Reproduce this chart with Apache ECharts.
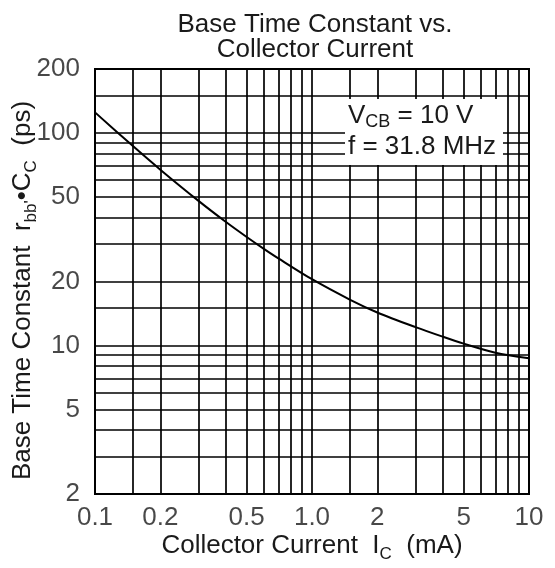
<!DOCTYPE html>
<html>
<head>
<meta charset="utf-8">
<script src="https://cdn.jsdelivr.net/npm/echarts@6/dist/echarts.min.js"></script>
<style>
  html, body { margin: 0; padding: 0; background: #fff; }
  #chart { width: 555px; height: 568px; }
</style>
</head>
<body>
<div id="chart"></div>
<script>
// data
var currentMA = [0.1, 0.15, 0.2, 0.3, 0.4, 0.5, 0.6, 0.7, 1.0, 1.5, 2, 3, 4, 5, 7, 10];
var timeConstPs = [125, 86.5, 67.2, 47.9, 38.2, 32.4, 28.5, 25.7, 20.5, 16.4, 14.3, 12.2, 11.0, 10.2, 9.25, 8.7];

// grid lines (log paper)
var xGridVals = [0.15, 0.2, 0.3, 0.4, 0.5, 0.6, 0.7, 0.8, 0.9, 1, 1.5, 2, 3, 4, 5, 6, 7, 8, 9];
var yGridVals = [3, 4, 5, 6, 7, 8, 9, 10, 15, 20, 30, 40, 50, 60, 70, 80, 90, 100, 150];

// tick labels
var xTicks = [0.1, 0.2, 0.5, 1, 2, 5, 10];
var xTickLabels = ['0.1', '0.2', '0.5', '1.0', '2', '5', '10'];
var yTicks = [2, 5, 10, 20, 50, 100, 200];
var yTickLabels = ['2', '5', '10', '20', '50', '100', '200'];

var FONT = 'Liberation Sans';
var INK = '#1a1a1a';

var chartDom = document.getElementById('chart');
var myChart = echarts.init(chartDom);

var gridLines = xGridVals.map(function (v) { return { xAxis: v }; })
  .concat(yGridVals.map(function (v) { return { yAxis: v }; }));

var option = {
  animation: false,
  backgroundColor: '#fff',
  title: {
    text: 'Base Time Constant vs.\nCollector Current',
    left: 310,
    top: 7,
    textAlign: 'center',
    textStyle: {
      fontFamily: FONT,
      fontWeight: 'normal',
      fontSize: 26,
      lineHeight: 25,
      color: INK
    }
  },
  grid: {
    left: 95,
    right: 26,
    top: 69,
    bottom: 67,
    show: true,
    borderColor: '#000',
    borderWidth: 2,
    backgroundColor: '#fff'
  },
  xAxis: {
    type: 'log',
    logBase: 10,
    min: 0.1,
    max: 10,
    axisLine: { show: false },
    axisTick: { show: false },
    axisLabel: { show: false },
    splitLine: { show: false },
    name: '{a|Collector Current  I}{s|C}{a|  (mA)}',
    nameLocation: 'middle',
    nameGap: 35,
    nameTextStyle: {
      rich: {
        a: { fontFamily: FONT, fontSize: 26, lineHeight: 34, color: INK },
        s: { fontFamily: FONT, fontSize: 17, lineHeight: 20, color: INK, verticalAlign: 'bottom' }
      }
    }
  },
  yAxis: {
    type: 'log',
    logBase: 10,
    min: 2,
    max: 200,
    axisLine: { show: false },
    axisTick: { show: false },
    axisLabel: { show: false },
    splitLine: { show: false },
    name: "{a|Base Time Constant  r}{s|bb'}{a|\u2022C}{s|C}{a|  (ps)}",
    nameLocation: 'middle',
    nameRotate: 90,
    nameGap: 55,
    nameTextStyle: {
      padding: [0, 18, 0, 0],
      rich: {
        a: { fontFamily: FONT, fontSize: 26, lineHeight: 34, color: INK },
        s: { fontFamily: FONT, fontSize: 17, lineHeight: 20, color: INK, verticalAlign: 'bottom' }
      }
    }
  },
  graphic: [
    {
      type: 'rect',
      z: 100,
      shape: { x: 345, y: 99, width: 158, height: 66 },
      style: { fill: '#fff' }
    },
    {
      type: 'text',
      z: 101,
      x: 348,
      y: 100,
      style: {
        text: '{a|V}{s|CB}{a| = 10 V}\n{a|f = 31.8 MHz}',
        rich: {
          a: { fontFamily: FONT, fontSize: 26, lineHeight: 31, fill: INK },
          s: { fontFamily: FONT, fontSize: 18, lineHeight: 20, fill: INK, verticalAlign: 'bottom' }
        }
      }
    }
  ],
  series: [
    {
      name: 'rbb Cc',
      type: 'line',
      data: currentMA.map(function (x, i) { return [x, timeConstPs[i]]; }),
      smooth: 0.3,
      showSymbol: false,
      symbol: 'none',
      lineStyle: { color: '#000', width: 2 },
      z: 5,
      markLine: {
        silent: true,
        symbol: 'none',
        label: { show: false },
        lineStyle: { color: '#000', width: 1.7, type: 'solid' },
        data: gridLines
      }
    },
    {
      name: 'xlabels',
      type: 'scatter',
      clip: false,
      silent: true,
      symbolSize: 0.1,
      itemStyle: { color: 'rgba(0,0,0,0)' },
      data: xTicks.map(function (v) { return [v, yTicks[0]]; }),
      label: {
        show: true,
        position: 'bottom',
        distance: 11,
        fontFamily: FONT,
        fontSize: 26,
        color: INK,
        formatter: function (p) { return xTickLabels[p.dataIndex]; }
      }
    },
    {
      name: 'ylabels',
      type: 'scatter',
      clip: false,
      silent: true,
      symbolSize: 0.1,
      itemStyle: { color: 'rgba(0,0,0,0)' },
      data: yTicks.map(function (v) { return [xTicks[0], v]; }),
      label: {
        show: true,
        position: 'left',
        distance: 15,
        fontFamily: FONT,
        fontSize: 26,
        color: INK,
        formatter: function (p) { return yTickLabels[p.dataIndex]; }
      }
    }
  ]
};

option && myChart.setOption(option);
</script>
</body>
</html>
